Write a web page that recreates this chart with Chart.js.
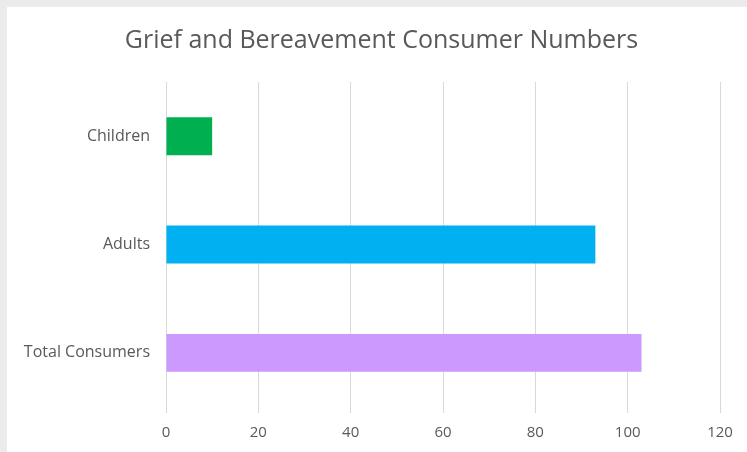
<!DOCTYPE html>
<html>
<head>
<meta charset="utf-8">
<script src="https://cdn.jsdelivr.net/npm/chart.js@4.4.0/dist/chart.umd.min.js"></script>
<style>
  html, body { margin: 0; padding: 0; background: #ebebeb; }
  #wrap { position: absolute; left: 7px; top: 7px; width: 740px; height: 445px; background: #fff; }
</style>
</head>
<body>
<div id="wrap"><canvas id="chGrief"></canvas></div>
<script>
// Grief and Bereavement Consumer Numbers
const categories = ['Children', 'Adults', 'Total Consumers'];
const consumerCounts = [10, 93, 103];
const barColours = ['#00b050', '#00b0f0', '#cc99ff'];
const xTicks = [0, 20, 40, 60, 80, 100, 120];

const textCol = '#595959';
const fontFam = '"Open Sans", "Noto Sans", sans-serif';

// title sits a bit right of the canvas centre in the original
const titleNudge = {
    id: 'titleNudge',
    afterLayout(chart) {
        if (chart.titleBlock) chart.titleBlock.left += 36;
    }
};

const ctx = document.getElementById('chGrief');

new Chart(ctx.getContext('2d'), {
    type: 'bar',
    data: {
        labels: categories,
        datasets: [{
            label: 'Consumers',
            data: consumerCounts,
            backgroundColor: barColours,
            borderWidth: 0,
            barPercentage: 0.35,
            categoryPercentage: 1
        }]
    },
    options: {
        indexAxis: 'y',
        responsive: true,
        maintainAspectRatio: false,
        animation: false,
        layout: { padding: { left: 0, right: 27, top: 0, bottom: 0 } },
        scales: {
            x: {
                min: 0,
                max: 120,
                afterBuildTicks: axis => { axis.ticks = xTicks.map(v => ({ value: v })); },
                afterFit: axis => { axis.height = 45; },
                grid: { color: '#d9d9d9', tickLength: 6 },
                border: { display: false },
                ticks: { color: textCol, padding: 11, font: { family: fontFam, size: 15 } }
            },
            y: {
                afterFit: axis => { axis.width = 159; },
                grid: { display: false, drawTicks: false },
                border: { display: false },
                ticks: { color: textCol, padding: 16, font: { family: fontFam, size: 16 } }
            }
        },
        plugins: {
            legend: { display: false },
            tooltip: { enabled: false },
            title: {
                display: true,
                text: 'Grief and Bereavement Consumer Numbers',
                color: textCol,
                font: { family: fontFam, size: 25, weight: 'normal' },
                padding: { top: 19, bottom: 26 }
            }
        }
    },
    plugins: [titleNudge]
});
</script>
</body>
</html>
